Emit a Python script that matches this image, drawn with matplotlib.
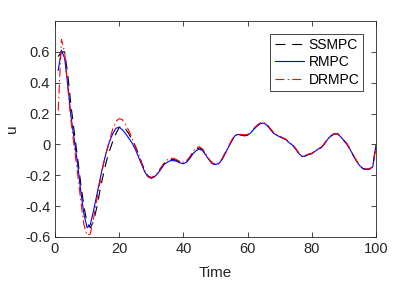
import numpy as np
import matplotlib.pyplot as plt

plt.rcParams['font.family'] = ['Liberation Sans', 'DejaVu Sans']

t = np.arange(1, 101)

rmpc = [0.48, 0.61, 0.56, 0.38, 0.18, 0.03, -0.12, -0.30, -0.45, -0.54,
        -0.52, -0.43, -0.33, -0.23, -0.13, -0.05, 0.02, 0.07, 0.105, 0.112,
        0.095, 0.07, 0.04, 0.01, -0.03, -0.08, -0.13, -0.18, -0.21, -0.22,
        -0.21, -0.19, -0.16, -0.13, -0.115, -0.105, -0.105, -0.11, -0.12, -0.125,
        -0.115, -0.09, -0.06, -0.04, -0.03, -0.04, -0.07, -0.10, -0.125, -0.13,
        -0.125, -0.10, -0.06, -0.02, 0.02, 0.055, 0.065, 0.06, 0.055, 0.06,
        0.075, 0.10, 0.12, 0.135, 0.138, 0.125, 0.10, 0.075, 0.06, 0.05,
        0.04, 0.03, 0.01, -0.005, -0.03, -0.06, -0.078, -0.075, -0.065, -0.06,
        -0.045, -0.03, -0.02, 0.005, 0.035, 0.055, 0.068, 0.068, 0.05, 0.025,
        0.0, -0.035, -0.075, -0.11, -0.14, -0.158, -0.162, -0.16, -0.145, -0.005]

drmpc = [0.22, 0.68, 0.60, 0.37, 0.15, -0.02, -0.18, -0.36, -0.52, -0.59,
         -0.58, -0.48, -0.36, -0.25, -0.14, -0.05, 0.03, 0.10, 0.15, 0.167,
         0.16, 0.13, 0.09, 0.04, -0.01, -0.06, -0.12, -0.17, -0.205, -0.215,
         -0.205, -0.18, -0.15, -0.12, -0.10, -0.09, -0.09, -0.10, -0.11, -0.115,
         -0.105, -0.08, -0.045, -0.02, -0.015, -0.03, -0.06, -0.095, -0.12, -0.128,
         -0.12, -0.095, -0.055, -0.015, 0.025, 0.058, 0.068, 0.065, 0.062, 0.065,
         0.08, 0.105, 0.125, 0.14, 0.143, 0.13, 0.105, 0.08, 0.064, 0.053,
         0.043, 0.033, 0.013, -0.002, -0.027, -0.057, -0.075, -0.072, -0.062, -0.057,
         -0.042, -0.027, -0.017, 0.008, 0.038, 0.058, 0.071, 0.071, 0.053, 0.028,
         0.003, -0.032, -0.072, -0.107, -0.137, -0.155, -0.16, -0.158, -0.143, -0.003]

ssmpc = [0.57, 0.60, 0.60, 0.45, 0.25, 0.08, -0.08, -0.25, -0.40, -0.51,
         -0.54, -0.50, -0.41, -0.30, -0.20, -0.11, -0.04, 0.02, 0.07, 0.11,
         0.12, 0.10, 0.07, 0.03, -0.01, -0.06, -0.12, -0.17, -0.205, -0.215,
         -0.207, -0.185, -0.155, -0.125, -0.107, -0.097, -0.097, -0.105, -0.115, -0.12,
         -0.11, -0.085, -0.052, -0.03, -0.022, -0.035, -0.065, -0.098, -0.122, -0.129,
         -0.122, -0.097, -0.057, -0.017, 0.022, 0.056, 0.066, 0.062, 0.058, 0.062,
         0.078, 0.102, 0.122, 0.137, 0.14, 0.127, 0.102, 0.077, 0.062, 0.051,
         0.041, 0.031, 0.011, -0.004, -0.029, -0.059, -0.077, -0.074, -0.064, -0.059,
         -0.044, -0.029, -0.019, 0.006, 0.036, 0.056, 0.069, 0.069, 0.051, 0.026,
         0.001, -0.034, -0.074, -0.109, -0.139, -0.157, -0.161, -0.159, -0.144, -0.004]

fig = plt.figure(figsize=(4.15, 2.84), dpi=100)
ax = fig.add_axes([0.1325, 0.1655, 0.7735, 0.7605])

ax.plot(t, ssmpc, color='black', linestyle=(0, (9, 6)), linewidth=0.8, label='SSMPC')
ax.plot(t, rmpc, color='blue', linestyle='-', linewidth=0.8, label='RMPC')
ax.plot(t, drmpc, color='red', linestyle=(0, (8, 3, 1.2, 3)), linewidth=0.8, label='DRMPC')

ax.set_xlim(0, 100)
ax.set_ylim(-0.6, 0.8)
ax.set_xticks([0, 20, 40, 60, 80, 100])
ax.set_yticks([-0.6, -0.4, -0.2, 0, 0.2, 0.4, 0.6])
ax.set_yticklabels(['-0.6', '-0.4', '-0.2', '0', '0.2', '0.4', '0.6'])
ax.tick_params(direction='in', top=True, right=True, labelsize=10.5,
               colors='#262626', length=3.5, width=0.6)
for s in ax.spines.values():
    s.set_color('#262626')
    s.set_linewidth(0.6)

ax.set_xlabel('Time', fontsize=11, color='#262626', labelpad=7)
ax.set_ylabel('u', fontsize=11, color='#262626', labelpad=4)

leg = ax.legend(loc='upper right', fontsize=10, fancybox=False, framealpha=1,
                edgecolor='#262626', handlelength=2.1, borderaxespad=0.9,
                labelspacing=0.25, handletextpad=0.35, borderpad=0.3)
leg.get_frame().set_linewidth(0.6)

fig.savefig('out.png', dpi=100)
